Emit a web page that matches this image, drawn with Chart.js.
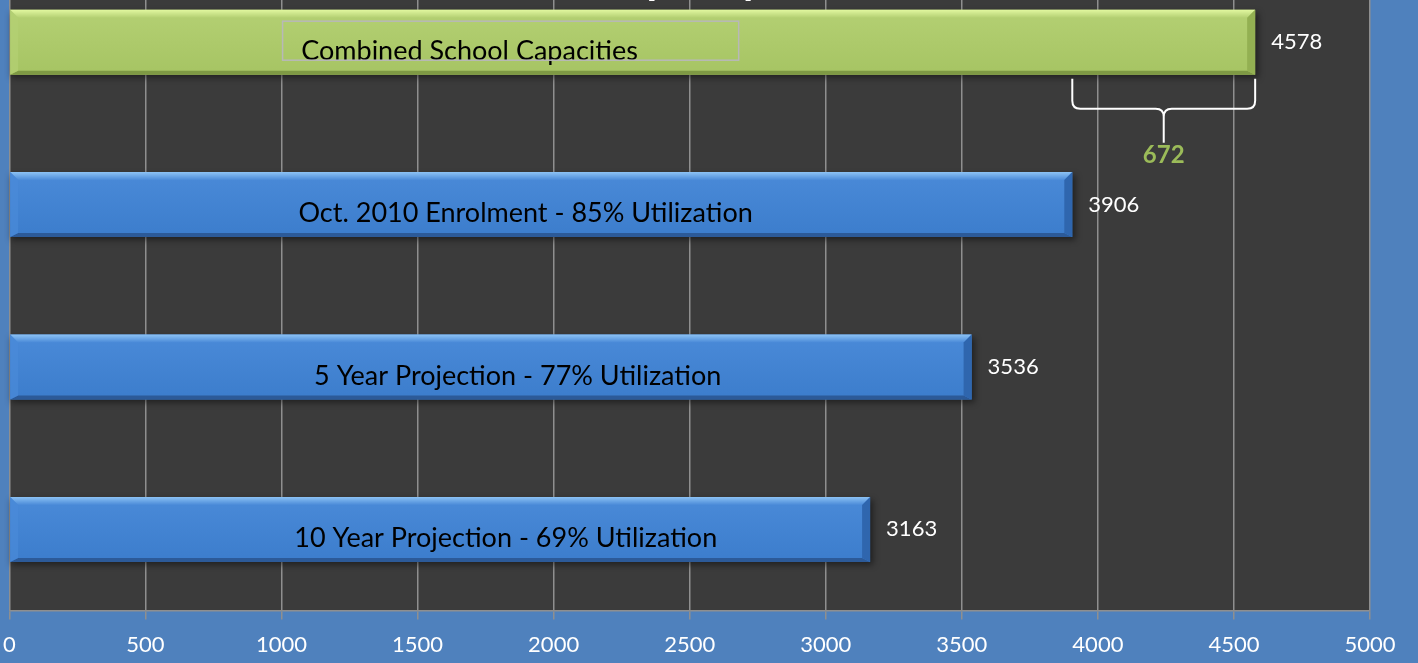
<!DOCTYPE html>
<html>
<head>
<meta charset="utf-8">
<script src="https://cdn.jsdelivr.net/npm/chart.js@4/dist/chart.umd.min.js"></script>
<style>
  html, body { margin: 0; padding: 0; background: #4f81bd; overflow: hidden; }
  #wrap { position: absolute; left: -9px; top: -58px; width: 1427px; height: 732px; }
</style>
</head>
<body>
<div id="wrap"><canvas id="myBarChart"></canvas></div>
<script>
const categories = [
  'Combined School Capacities',
  'Oct. 2010 Enrolment - 85% Utilization',
  '5 Year Projection - 77% Utilization',
  '10 Year Projection - 69% Utilization'
];
const values = [4578, 3906, 3536, 3163];
const tickLabels = [0, 500, 1000, 1500, 2000, 2500, 3000, 3500, 4000, 4500, 5000];
const titleText = 'Capacity';

// where the text inside each bar sits (axis units)
const labelCenters = [1691, 1897, 1868, 1824];

const green = { main: '#a6c463', light: '#b4d073', top: '#e2f8a0', bottom: '#7e9944', side: '#93b052' };
const blue = { main: '#3c7dcc', light: '#4a8ad8', top: '#8cc2f4', bottom: '#2c5a98', side: '#2f66ae' };
const pal = i => (i === 0 ? green : blue);

const plotBg = {
  id: 'plotBg',
  beforeDraw(chart) {
    const { ctx, chartArea: a } = chart;
    ctx.save();
    ctx.fillStyle = '#3b3b3b';
    ctx.fillRect(a.left, a.top, a.right - a.left, a.bottom - a.top);
    ctx.restore();
  }
};

// bevel edges + shadow on each bar
const bevel = {
  id: 'bevel',
  beforeDatasetsDraw(chart) {
    const ctx = chart.ctx;
    const meta = chart.getDatasetMeta(0);
    ctx.save();
    meta.data.forEach(el => {
      const top = el.y - el.height / 2, h = el.height;
      ctx.fillStyle = 'rgba(0,0,0,0.45)';
      ctx.filter = 'blur(3px)';
      ctx.fillRect(el.base + 1, top + 3, el.x - el.base + 2, h);
    });
    ctx.restore();
  },
  afterDatasetsDraw(chart) {
    const ctx = chart.ctx;
    const meta = chart.getDatasetMeta(0);
    const b = 8;
    meta.data.forEach((el, i) => {
      const c = pal(i);
      const l = el.base, r = el.x, t = el.y - el.height / 2, bt = el.y + el.height / 2;
      ctx.save();
      // top
      let g = ctx.createLinearGradient(0, t, 0, t + b);
      g.addColorStop(0, c.top); g.addColorStop(1, c.light);
      ctx.fillStyle = g;
      ctx.beginPath(); ctx.moveTo(l, t); ctx.lineTo(r, t); ctx.lineTo(r - b, t + b); ctx.lineTo(l + b, t + b); ctx.closePath(); ctx.fill();
      // bottom
      ctx.fillStyle = c.bottom;
      ctx.beginPath(); ctx.moveTo(l, bt); ctx.lineTo(r, bt); ctx.lineTo(r - b, bt - 4); ctx.lineTo(l + b, bt - 4); ctx.closePath(); ctx.fill();
      // left
      ctx.fillStyle = c.light;
      ctx.globalAlpha = 0.7;
      ctx.beginPath(); ctx.moveTo(l, t); ctx.lineTo(l + b, t + b); ctx.lineTo(l + b, bt - 4); ctx.lineTo(l, bt); ctx.closePath(); ctx.fill();
      ctx.globalAlpha = 1;
      // right
      ctx.fillStyle = c.side;
      ctx.beginPath(); ctx.moveTo(r, t); ctx.lineTo(r - b, t + b); ctx.lineTo(r - b, bt - 4); ctx.lineTo(r, bt); ctx.closePath(); ctx.fill();
      ctx.restore();
    });
  }
};

const labels = {
  id: 'labels',
  afterDatasetsDraw(chart) {
    const { ctx, scales } = chart;
    const meta = chart.getDatasetMeta(0);
    ctx.save();
    ctx.textBaseline = 'middle';
    meta.data.forEach((el, i) => {
      // value right of bar
      ctx.font = '22px Lato';
      ctx.fillStyle = '#ffffff';
      ctx.textAlign = 'left';
      ctx.fillText(String(values[i]), el.x + 16, el.y);
      // category text inside bar
      ctx.font = '27px Lato';
      ctx.fillStyle = '#000000';
      ctx.textAlign = 'center';
      ctx.fillText(categories[i], scales.x.getPixelForValue(labelCenters[i]), el.y + 9);
    });
    // text box outline on the first label
    const e0 = meta.data[0];
    ctx.strokeStyle = '#b8b8b8';
    ctx.lineWidth = 1.5;
    const bx1 = scales.x.getPixelForValue(1004), bx2 = scales.x.getPixelForValue(2680);
    ctx.strokeRect(bx1, e0.y - 21, bx2 - bx1, 39);

    // brace showing the gap between capacity and enrolment
    const x1 = scales.x.getPixelForValue(values[1]);
    const x2 = scales.x.getPixelForValue(values[0]);
    const xm = (x1 + x2) / 2;
    const y0 = e0.y + e0.height / 2 + 4;
    const yh = y0 + 30, yt = y0 + 64, rr = 8;
    ctx.strokeStyle = '#ffffff';
    ctx.lineWidth = 2;
    ctx.beginPath();
    ctx.moveTo(x1, y0);
    ctx.lineTo(x1, yh - rr);
    ctx.quadraticCurveTo(x1, yh, x1 + rr, yh);
    ctx.lineTo(xm - rr, yh);
    ctx.quadraticCurveTo(xm, yh, xm, yh + rr);
    ctx.lineTo(xm, yt);
    ctx.moveTo(x2, y0);
    ctx.lineTo(x2, yh - rr);
    ctx.quadraticCurveTo(x2, yh, x2 - rr, yh);
    ctx.lineTo(xm + rr, yh);
    ctx.quadraticCurveTo(xm, yh, xm, yh + rr);
    ctx.stroke();
    ctx.font = 'bold 24px Lato';
    ctx.fillStyle = '#9bbb59';
    ctx.textAlign = 'center';
    ctx.fillText(String(values[0] - values[1]), xm, yt + 13);

    // chart title (mostly above the visible area)
    const a = chart.chartArea;
    ctx.font = 'bold 43px Lato';
    ctx.fillStyle = '#ffffff';
    ctx.textBaseline = 'alphabetic';
    ctx.fillText(titleText, (a.left + a.right) / 2 - 10, a.top + 33);
    ctx.restore();
  }
};

document.addEventListener('DOMContentLoaded', function() {
  const barCtx = document.getElementById('myBarChart').getContext('2d');

  const myBarChart = new Chart(barCtx, {
    type: 'bar',
    data: {
      labels: categories,
      datasets: [{
        data: values,
        backgroundColor: function(c) {
          const chart = c.chart;
          const y = chart.scales.y;
          if (!y || !chart.chartArea) return pal(c.dataIndex).main;
          const cy = y.getPixelForValue(c.dataIndex);
          const half = (y.height / categories.length) * 0.4 / 2;
          const g = chart.ctx.createLinearGradient(0, cy - half, 0, cy + half);
          const p = pal(c.dataIndex);
          g.addColorStop(0, p.light);
          g.addColorStop(1, p.main);
          return g;
        },
        borderWidth: 0,
        barPercentage: 0.4,
        categoryPercentage: 1
      }]
    },
    options: {
      indexAxis: 'y',
      responsive: true,
      maintainAspectRatio: false,
      animation: false,
      layout: { padding: { left: 1, right: 48, top: 19, bottom: 4 } },
      scales: {
        x: {
          min: 0,
          max: 5000,
          afterBuildTicks: axis => { axis.ticks = tickLabels.map(v => ({ value: v })); },
          grid: { color: '#8f8f8f', lineWidth: 1.5, tickLength: 9 },
          border: { color: '#8f8f8f', width: 1.5 },
          ticks: {
            color: '#ffffff',
            font: { family: 'Lato', size: 22 },
            padding: 12,
            maxRotation: 0,
            callback: v => String(v)
          }
        },
        y: { display: false }
      },
      plugins: {
        legend: { display: false },
        tooltip: { enabled: false }
      }
    },
    plugins: [plotBg, bevel, labels]
  });
});
</script>
</body>
</html>
